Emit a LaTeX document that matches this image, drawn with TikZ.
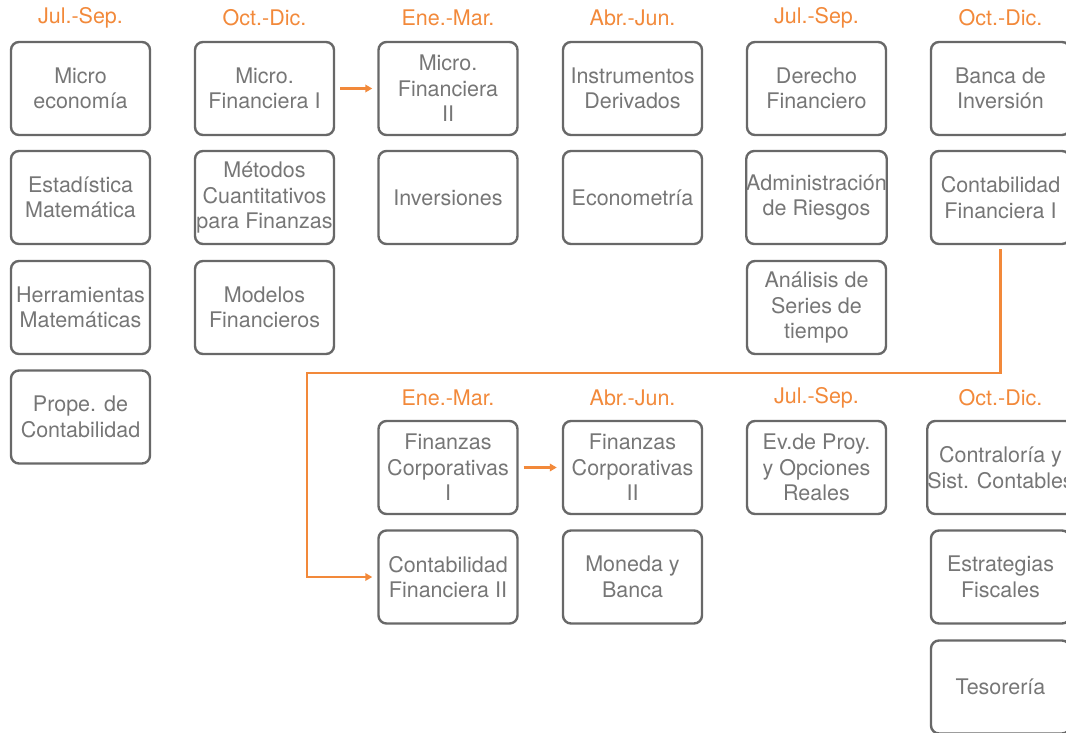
\documentclass[tikz,border=0pt]{standalone}
\usepackage{fontspec}
\setmainfont{TeX Gyre Heros}
\usepackage{xcolor}
\usetikzlibrary{positioning, arrows.meta}

\definecolor{naranja}{RGB}{242,137,58}
\definecolor{gris}{RGB}{104,104,104}
\definecolor{grisTexto}{RGB}{118,118,118}

\begin{document}
\begin{tikzpicture}[
            x=1pt, y=-1pt,
            curso/.style={rectangle, rounded corners=8pt, draw=gris, line width=2.4pt,
                minimum width=139pt, minimum height=93pt, inner sep=0pt, align=center,
                text=grisTexto, font=\fontsize{21.5}{25.5}\selectfont},
            periodo/.style={text=naranja, font=\fontsize{21.5}{25}\selectfont},
            flujo/.style={draw=naranja, line width=2.2pt, -{Triangle[length=7pt,width=7.5pt]}},
        ]
            \useasboundingbox (0,0) rectangle (1066,732);

            % encabezados superiores
            \node[periodo] (h1) at (80.5,18) {Jul.-Sep.};
            \node[periodo] (h2) at (264.5,18) {Oct.-Dic.};
            \node[periodo] (h3) at (448,18) {Ene.-Mar.};
            \node[periodo] (h4) at (632.5,18) {Abr.-Jun.};
            \node[periodo] (h5) at (816.5,18) {Jul.-Sep.};
            \node[periodo] (h6) at (1000.5,18) {Oct.-Dic.};

            % primer bloque
            \node[curso] (micro) at (80.5,88.5) {Micro\\economía};
            \node[curso] (estad) at (80.5,197.5) {Estadística\\Matemática};
            \node[curso] (herram) at (80.5,307.5) {Herramientas\\Matemáticas};
            \node[curso] (prope) at (80.5,417) {Prope. de\\Contabilidad};

            \node[curso] (mfI) at (264.5,88.5) {Micro.\\Financiera I};
            \node[curso] (metodos) at (264.5,197.5) {Métodos\\Cuantitativos\\para Finanzas};
            \node[curso] (modelos) at (264.5,307.5) {Modelos\\Financieros};

            \node[curso] (mfII) at (448,88.5) {Micro.\\Financiera\\II};
            \node[curso] (invers) at (448,197.5) {Inversiones};

            \node[curso] (instr) at (632.5,88.5) {Instrumentos\\Derivados};
            \node[curso] (econom) at (632.5,197.5) {Econometría};

            \node[curso] (derecho) at (816.5,88.5) {Derecho\\Financiero};
            \node[curso] (admin) at (816.5,197.5) {Administración\\de Riesgos};
            \node[curso] (series) at (816.5,307.5) {Análisis de\\Series de\\tiempo};

            \node[curso] (banca) at (1000.5,88.5) {Banca de\\Inversión};
            \node[curso] (cfI) at (1000.5,197.5) {Contabilidad\\Financiera I};

            % encabezados inferiores
            \node[periodo] (g3) at (448,398) {Ene.-Mar.};
            \node[periodo] (g4) at (632.5,398) {Abr.-Jun.};
            \node[periodo] (g5) at (816.5,398) {Jul.-Sep.};
            \node[periodo] (g6) at (1000.5,398) {Oct.-Dic.};

            % segundo bloque
            \node[curso] (fcI) at (448,467.5) {Finanzas\\Corporativas\\I};
            \node[curso] (cfII) at (448,577) {Contabilidad\\Financiera II};

            \node[curso] (fcII) at (632.5,467.5) {Finanzas\\Corporativas\\II};
            \node[curso] (moneda) at (632.5,577) {Moneda y\\Banca};

            \node[curso] (evproy) at (816.5,467.5) {Ev.de Proy.\\y Opciones\\Reales};

            \node[curso] (contral) at (1000.5,467.5) {Contraloría y\\Sist. Contables};
            \node[curso] (estrat) at (1000.5,577) {Estrategias\\Fiscales};
            \node[curso] (tesor) at (1000.5,687) {Tesorería};

            % seriaciones
            \coordinate (vuelta) at (307,373);
            \draw[flujo, shorten <=5pt, shorten >=5pt] (mfI.east) -- (mfII.west);
            \draw[flujo, shorten <=5pt, shorten >=5pt] (fcI.east) -- (fcII.west);
            \draw[flujo, shorten <=4pt, shorten >=5pt] (cfI.south) |- (vuelta) |- (cfII.west);
        \end{tikzpicture}
\end{document}
